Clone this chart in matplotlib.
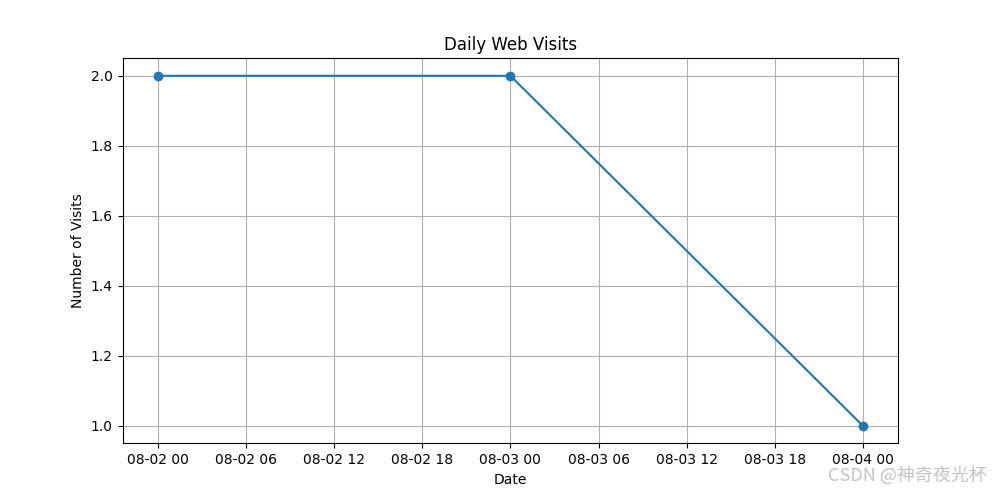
import matplotlib
matplotlib.use("Agg")
import matplotlib.pyplot as plt
import pandas as pd

dates = pd.to_datetime(["2024-08-02", "2024-08-03", "2024-08-04"])
visits = [2, 2, 1]

fig, ax = plt.subplots(figsize=(9.93, 4.94), dpi=100)
ax.plot(dates, visits, marker='o')
ax.set_title("Daily Web Visits")
ax.set_xlabel("Date")
ax.set_ylabel("Number of Visits")
ax.grid(True)

plt.subplots_adjust(left=0.1235, right=0.9045, top=0.882, bottom=0.1025)

fig.text(0.994, 0.018, "CSDN @神奇夜光杯", ha='right', va='bottom', fontsize=13,
         color='#c4c4c4', family=['Noto Sans CJK SC', 'DejaVu Sans'])

plt.savefig("out.png", dpi=100)
